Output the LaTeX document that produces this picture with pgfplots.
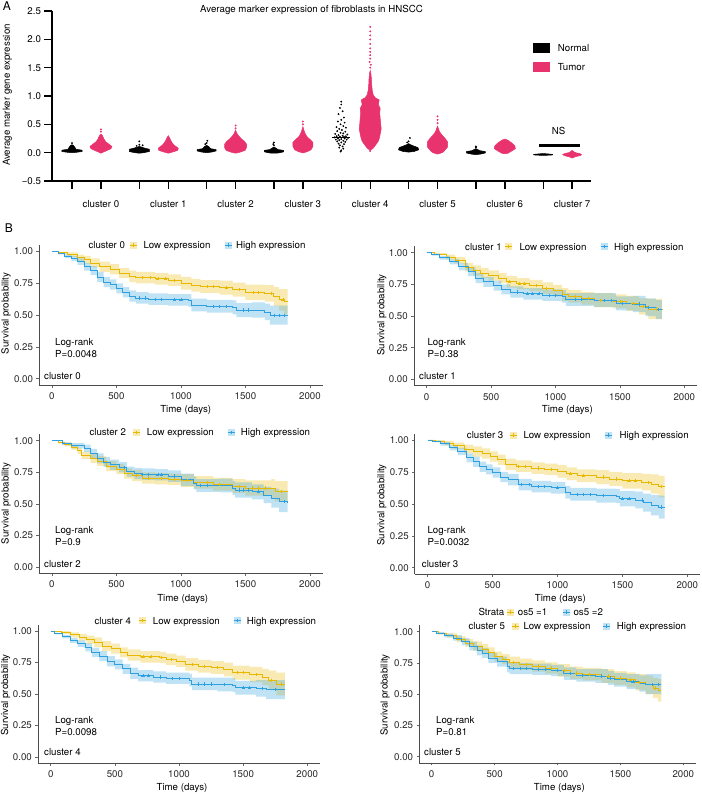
\documentclass[border=0pt]{standalone}
\usepackage{pgfplots}
\pgfplotsset{compat=1.18}
\usepackage{pgfplotstable}
\usepackage{fontspec}
\setmainfont{TeX Gyre Heros}
\definecolor{kmY}{HTML}{E7B800}
\definecolor{kmB}{HTML}{2E9FDF}
\definecolor{pinkT}{HTML}{E8336E}
\newcommand\f{\fontsize{9.7pt}{11pt}\selectfont}
\newcommand\TL[3]{\node[anchor=base west, inner sep=0pt, font=\f] at (#1pt,-#2pt-3.5pt) {#3};}
\newcommand\TC[3]{\node[anchor=base, inner sep=0pt, font=\f] at (#1pt,-#2pt-3.5pt) {#3};}
\newcommand\key[3]{\fill[#1, fill opacity=0.3] (#2pt-3.5pt,-#3pt-3.5pt) rectangle ++(7pt,7pt);
  \draw[#1, line width=0.8pt] (#2pt-3.5pt,-#3pt) -- ++(7pt,0);
  \draw[#1, line width=0.5pt] (#2pt,-#3pt-1.6pt) -- ++(0,3.2pt);}

% ---------- KM curves: t = days, y = survival; b = confidence band outline ----------
\pgfplotstableread{
t y
0 1.00
50 0.99
120 0.975
200 0.95
250 0.935
300 0.91
370 0.88
450 0.86
520 0.83
600 0.805
650 0.795
800 0.785
900 0.775
1000 0.75
1080 0.735
1150 0.725
1300 0.715
1400 0.70
1500 0.68
1650 0.67
1720 0.645
1760 0.62
1800 0.605
1826 0.605
}\LoA
\pgfplotstableread{
t y
0 1.00
50 0.985
100 0.965
150 0.945
200 0.92
250 0.88
300 0.85
350 0.80
400 0.76
450 0.74
500 0.71
550 0.68
600 0.65
650 0.635
750 0.625
900 0.62
1060 0.615
1080 0.58
1200 0.57
1400 0.56
1430 0.54
1550 0.54
1650 0.525
1690 0.50
1826 0.50
}\HiA
\pgfplotstableread{
t b
0 1
50 .998
120 .992
200 .975
250 .965
300 .945
370 .92
450 .90
520 .87
600 .85
650 .84
800 .83
900 .82
1000 .80
1080 .785
1150 .775
1300 .77
1400 .755
1500 .74
1650 .735
1720 .72
1760 .705
1800 .705
1826 .705
1826 .505
1800 .535
1760 .57
1720 .605
1650 .62
1500 .645
1400 .66
1300 .675
1150 .685
1080 .70
1000 .73
900 .74
800 .75
650 .76
600 .79
520 .82
450 .84
370 .875
300 .905
250 .925
200 .958
120 .982
50 1
0 1
}\bYA
\pgfplotstableread{
t b
0 1
50 .993
100 .98
150 .965
200 .945
250 .91
300 .885
350 .84
400 .80
450 .78
500 .75
550 .72
600 .695
650 .68
750 .67
900 .665
1060 .665
1080 .63
1200 .62
1400 .615
1430 .595
1550 .60
1650 .59
1690 .575
1826 .58
1826 .425
1690 .46
1650 .48
1550 .485
1430 .505
1400 .52
1200 .53
1080 .565
1060 .575
900 .58
750 .59
650 .605
600 .64
550 .67
500 .70
450 .72
400 .76
350 .815
300 .85
250 .895
200 .925
150 .95
100 .977
50 1
0 1
}\bBA
\pgfplotstableread{
t y
700 0.795
760 0.795
820 0.785
880 0.785
950 0.775
1200 0.725
1250 0.725
1350 0.715
1450 0.70
1560 0.68
1600 0.68
1700 0.67
1790 0.62
}\cLoA
\pgfplotstableread{
t y
680 0.635
720 0.635
800 0.625
850 0.625
950 0.62
1000 0.62
1250 0.57
1300 0.57
1350 0.57
1480 0.54
1520 0.54
1720 0.50
1760 0.50
1800 0.50
}\cHiA

\pgfplotstableread{
t y
0 1.00
60 0.99
150 0.965
220 0.94
300 0.885
360 0.86
420 0.84
480 0.82
560 0.80
620 0.77
700 0.755
800 0.74
900 0.72
980 0.70
1050 0.67
1100 0.655
1200 0.64
1300 0.625
1450 0.615
1550 0.60
1650 0.575
1720 0.555
1826 0.55
}\LoB
\pgfplotstableread{
t y
0 1.00
40 0.985
100 0.96
180 0.93
250 0.89
320 0.85
380 0.80
440 0.77
520 0.74
580 0.71
650 0.69
750 0.675
900 0.665
1050 0.655
1080 0.63
1300 0.625
1450 0.625
1470 0.60
1600 0.595
1700 0.57
1780 0.55
1826 0.55
}\HiB
\pgfplotstableread{
t b
0 1
60 .998
150 .985
220 .965
300 .92
360 .90
420 .88
480 .86
560 .84
620 .815
700 .80
800 .785
900 .765
980 .745
1050 .72
1100 .705
1200 .69
1300 .68
1450 .67
1550 .66
1650 .64
1720 .635
1826 .65
1826 .475
1720 .51
1650 .54
1550 .56
1450 .57
1300 .59
1200 .605
1100 .62
1050 .655
980 .675
900 .695
800 .71
700 .725
620 .76
560 .78
480 .80
420 .82
360 .85
300 .915
220 .945
150 .982
60 1
0 1
}\bYB
\pgfplotstableread{
t b
0 1
40 .993
100 .975
180 .952
250 .92
320 .885
380 .84
440 .81
520 .78
580 .75
650 .735
750 .72
900 .71
1050 .705
1080 .68
1300 .68
1450 .68
1470 .655
1600 .66
1700 .64
1780 .625
1826 .625
1826 .475
1780 .50
1700 .53
1600 .545
1470 .57
1450 .57
1300 .58
1080 .605
1050 .62
900 .63
750 .645
650 .67
580 .70
520 .73
440 .76
380 .815
320 .86
250 .908
180 .945
100 .977
40 1
0 1
}\bBB
\pgfplotstableread{
t y
640 0.77
720 0.755
760 0.755
850 0.74
930 0.72
1150 0.655
1250 0.64
1350 0.625
1500 0.615
1600 0.60
1680 0.575
1780 0.555
}\cLoB
\pgfplotstableread{
t y
700 0.69
780 0.675
820 0.675
870 0.675
950 0.665
1000 0.665
1150 0.63
1200 0.63
1380 0.625
1430 0.625
1520 0.60
1650 0.595
1720 0.57
1800 0.55
}\cHiB

\pgfplotstableread{
t y
0 1.00
50 0.985
100 0.97
150 0.95
200 0.92
230 0.885
300 0.86
350 0.84
420 0.80
500 0.775
560 0.74
620 0.725
700 0.705
800 0.70
900 0.695
1000 0.685
1100 0.67
1250 0.655
1400 0.64
1500 0.625
1700 0.62
1730 0.60
1826 0.60
}\LoC
\pgfplotstableread{
t y
0 1.00
80 0.975
150 0.96
250 0.94
300 0.90
350 0.86
400 0.83
450 0.81
520 0.79
580 0.755
640 0.74
700 0.735
800 0.73
900 0.72
1000 0.69
1100 0.665
1120 0.645
1300 0.645
1400 0.625
1420 0.61
1550 0.595
1640 0.57
1700 0.545
1760 0.52
1826 0.51
}\HiC
\pgfplotstableread{
t b
0 1
50 .993
100 .985
150 .97
200 .945
230 .913
300 .895
350 .88
420 .84
500 .815
560 .78
620 .77
700 .75
800 .745
900 .74
1000 .735
1100 .72
1250 .705
1400 .695
1500 .685
1700 .695
1730 .68
1826 .69
1826 .52
1730 .545
1700 .565
1500 .585
1400 .605
1250 .62
1100 .635
1000 .65
900 .655
800 .66
700 .68
620 .70
560 .735
500 .76
420 .80
350 .825
300 .857
230 .895
200 .93
150 .955
100 .977
50 1
0 1
}\bYC
\pgfplotstableread{
t b
0 1
80 .987
150 .98
250 .97
300 .935
350 .90
400 .87
450 .85
520 .83
580 .795
640 .785
700 .78
800 .775
900 .765
1000 .74
1100 .715
1120 .695
1300 .70
1400 .68
1420 .67
1550 .655
1640 .635
1700 .62
1760 .605
1826 .60
1826 .435
1760 .47
1700 .505
1640 .535
1550 .55
1420 .57
1400 .59
1300 .595
1120 .615
1100 .64
1000 .675
900 .685
800 .69
700 .695
640 .715
580 .75
520 .77
450 .79
400 .82
350 .865
300 .91
250 .94
150 .963
80 1
0 1
}\bBC
\pgfplotstableread{
t y
650 0.725
750 0.705
850 0.70
950 0.695
1050 0.685
1200 0.67
1300 0.655
1450 0.64
1550 0.625
1600 0.625
1650 0.625
1780 0.60
}\cLoC
\pgfplotstableread{
t y
560 0.79
700 0.735
750 0.735
820 0.73
850 0.73
950 0.72
1150 0.645
1200 0.645
1450 0.61
1480 0.61
1520 0.61
1600 0.595
1800 0.52
}\cHiC

\pgfplotstableread{
t y
0 1.00
60 0.99
130 0.975
200 0.955
280 0.93
350 0.91
420 0.895
480 0.87
540 0.845
600 0.81
680 0.795
800 0.78
900 0.77
1000 0.755
1070 0.735
1150 0.72
1300 0.71
1400 0.695
1500 0.68
1650 0.67
1720 0.655
1780 0.635
1826 0.635
}\LoD
\pgfplotstableread{
t y
0 1.00
40 0.99
100 0.97
170 0.94
230 0.91
300 0.86
350 0.83
400 0.79
450 0.77
500 0.745
560 0.71
620 0.69
700 0.65
800 0.635
950 0.625
1060 0.59
1100 0.575
1300 0.565
1450 0.56
1480 0.54
1600 0.53
1660 0.51
1720 0.49
1780 0.475
1826 0.475
}\HiD
\pgfplotstableread{
t b
0 1
60 .998
130 .993
200 .98
280 .963
350 .95
420 .935
480 .91
540 .885
600 .855
680 .84
800 .825
900 .815
1000 .805
1070 .785
1150 .77
1300 .765
1400 .75
1500 .74
1650 .735
1720 .73
1780 .72
1826 .725
1826 .55
1780 .58
1720 .605
1650 .62
1500 .64
1400 .655
1300 .67
1150 .685
1070 .705
1000 .725
900 .735
800 .75
680 .765
600 .805
540 .83
480 .855
420 .87
350 .897
280 .93
200 .957
130 .982
60 1
0 1
}\bYD
\pgfplotstableread{
t b
0 1
40 .996
100 .985
170 .962
230 .938
300 .895
350 .87
400 .83
450 .81
500 .785
560 .75
620 .735
700 .695
800 .68
950 .67
1060 .64
1100 .625
1300 .62
1450 .615
1480 .60
1600 .595
1660 .58
1720 .57
1780 .565
1826 .565
1826 .385
1780 .41
1720 .44
1660 .465
1600 .48
1480 .505
1450 .51
1300 .525
1100 .54
1060 .58
950 .59
800 .605
700 .645
620 .67
560 .705
500 .73
450 .75
400 .79
350 .825
300 .882
230 .918
170 .955
100 .984
40 1
0 1
}\bBD
\pgfplotstableread{
t y
700 0.795
750 0.795
850 0.78
950 0.77
1100 0.735
1200 0.72
1350 0.71
1450 0.695
1550 0.68
1600 0.68
1700 0.67
1800 0.635
}\cLoD
\pgfplotstableread{
t y
720 0.65
780 0.65
850 0.635
900 0.635
1000 0.625
1150 0.575
1200 0.575
1250 0.575
1350 0.565
1500 0.54
1550 0.54
1650 0.53
1800 0.475
}\cHiD

\pgfplotstableread{
t y
0 1.00
80 0.99
150 0.97
220 0.95
280 0.93
340 0.91
400 0.88
470 0.86
540 0.83
600 0.81
700 0.795
850 0.79
900 0.775
980 0.76
1050 0.735
1150 0.72
1250 0.71
1350 0.695
1420 0.67
1550 0.655
1650 0.635
1700 0.61
1760 0.58
1826 0.58
}\LoE
\pgfplotstableread{
t y
0 1.00
30 0.98
90 0.955
150 0.925
210 0.90
270 0.87
320 0.83
380 0.80
440 0.76
500 0.735
560 0.70
620 0.665
680 0.645
800 0.635
900 0.625
1080 0.61
1100 0.58
1300 0.575
1420 0.57
1440 0.55
1600 0.545
1680 0.535
1826 0.535
}\HiE
\pgfplotstableread{
t b
0 1
80 1.0
150 .99
220 .977
280 .963
340 .95
400 .92
470 .90
540 .87
600 .855
700 .84
850 .835
900 .82
980 .805
1050 .785
1150 .77
1250 .76
1350 .75
1420 .725
1550 .715
1650 .70
1700 .685
1760 .67
1826 .68
1826 .49
1760 .535
1700 .57
1650 .595
1550 .615
1420 .64
1350 .66
1250 .67
1150 .685
1050 .715
980 .73
900 .745
850 .75
700 .765
600 .79
540 .82
470 .84
400 .87
340 .897
280 .923
220 .95
150 .978
80 1
0 1
}\bYE
\pgfplotstableread{
t b
0 1
30 .986
90 .969
150 .945
210 .926
270 .902
320 .867
380 .84
440 .80
500 .775
560 .74
620 .71
680 .69
800 .68
900 .67
1080 .66
1100 .63
1300 .63
1420 .625
1440 .605
1600 .61
1680 .61
1826 .62
1826 .46
1680 .48
1600 .495
1440 .515
1420 .52
1300 .53
1100 .56
1080 .58
900 .59
800 .60
680 .62
620 .66
560 .695
500 .72
440 .76
380 .793
320 .838
270 .874
210 .905
150 .941
90 .974
30 1
0 1
}\bBE
\pgfplotstableread{
t y
720 0.795
780 0.795
860 0.79
940 0.775
1100 0.735
1200 0.72
1300 0.71
1450 0.67
1500 0.67
1600 0.655
1720 0.61
1800 0.58
}\cLoE
\pgfplotstableread{
t y
720 0.645
760 0.645
850 0.635
950 0.625
1000 0.625
1150 0.58
1200 0.58
1250 0.58
1350 0.575
1500 0.55
1550 0.55
1650 0.545
1750 0.535
}\cHiE

\pgfplotstableread{
t y
0 1.00
50 0.985
120 0.97
200 0.94
270 0.91
330 0.885
400 0.86
450 0.835
500 0.80
560 0.78
620 0.755
700 0.74
800 0.725
900 0.71
1000 0.69
1100 0.67
1200 0.66
1350 0.645
1450 0.63
1550 0.615
1620 0.595
1700 0.575
1760 0.55
1800 0.53
1826 0.53
}\LoF
\pgfplotstableread{
t y
0 1.00
40 0.99
100 0.97
170 0.95
240 0.92
300 0.885
360 0.85
400 0.83
450 0.79
520 0.76
600 0.72
620 0.705
800 0.70
950 0.69
1050 0.665
1150 0.65
1300 0.645
1400 0.63
1450 0.615
1550 0.60
1650 0.585
1700 0.58
1826 0.58
}\HiF
\pgfplotstableread{
t b
0 1
50 .993
120 .987
200 .965
270 .942
330 .923
400 .90
450 .875
500 .84
560 .82
620 .80
700 .785
800 .77
900 .755
1000 .74
1100 .72
1200 .71
1350 .70
1450 .685
1550 .675
1620 .66
1700 .65
1760 .63
1800 .62
1826 .62
1826 .44
1800 .47
1760 .50
1700 .53
1620 .555
1550 .575
1450 .59
1350 .61
1200 .62
1100 .64
1000 .665
900 .68
800 .695
700 .71
620 .74
560 .76
500 .795
450 .82
400 .847
330 .878
270 .915
200 .953
120 .977
50 1
0 1
}\bYF
\pgfplotstableread{
t b
0 1
40 .996
100 .985
170 .972
240 .949
300 .92
360 .89
400 .87
450 .83
520 .80
600 .765
620 .75
800 .745
950 .735
1050 .715
1150 .70
1300 .70
1400 .685
1450 .67
1550 .66
1650 .65
1700 .66
1826 .67
1826 .50
1700 .52
1650 .54
1550 .56
1450 .575
1400 .59
1300 .60
1150 .615
1050 .645
950 .655
800 .66
620 .675
600 .72
520 .75
450 .79
400 .81
360 .85
300 .891
240 .928
170 .955
100 .984
40 1
0 1
}\bBF
\pgfplotstableread{
t y
650 0.755
750 0.74
850 0.725
950 0.71
1050 0.69
1150 0.67
1250 0.66
1400 0.645
1500 0.63
1580 0.615
1650 0.595
1780 0.55
}\cLoF
\pgfplotstableread{
t y
650 0.705
700 0.705
750 0.705
850 0.70
900 0.70
1000 0.69
1100 0.665
1200 0.65
1350 0.645
1420 0.63
1600 0.60
1750 0.58
1800 0.58
}\cHiF

\pgfplotsset{
 km/.style={scale only axis, anchor=south west, xmin=-100, xmax=2100, ymin=-0.05, ymax=1.05,
  axis x line*=bottom, axis y line*=left, axis line style={-, black!70, line width=0.6pt},
  tick pos=left, tick align=outside, major tick length=2.5pt, tick style={black!60, line width=0.5pt},
  xtick={0,500,1000,1500,2000}, xticklabels={0,500,1000,1500,2000},
  ytick={0,0.25,0.5,0.75,1}, yticklabels={0.00,0.25,0.50,0.75,1.00},
  ticklabel style={font=\f, text=black!85}, xticklabel style={yshift=-1.5pt}},
}
\newcommand\kmcurves[6]{%
\addplot[fill=kmY, fill opacity=0.3, draw=none, const plot] table[x=t,y=b]{#1};
\addplot[fill=kmB, fill opacity=0.3, draw=none, const plot] table[x=t,y=b]{#2};
\addplot[kmY, line width=0.8pt, const plot] table[x=t,y=y]{#3};
\addplot[kmB, line width=0.8pt, const plot] table[x=t,y=y]{#4};
\addplot[kmY, only marks, mark=+, mark size=1.6pt, line width=0.4pt] table[x=t,y=y]{#5};
\addplot[kmB, only marks, mark=+, mark size=1.6pt, line width=0.4pt] table[x=t,y=y]{#6};}

\begin{document}
\begin{tikzpicture}
\path[use as bounding box] (0,0) rectangle (701pt,-794pt);

% ================= Panel A =================
\begin{axis}[scale only axis, anchor=south west, at={(52pt,-181pt)}, width=539pt, height=170pt,
  xmin=-0.297, xmax=7.71, ymin=-0.5, ymax=2.5,
  axis x line*=bottom, axis y line*=left, axis line style={-, black, line width=1.4pt},
  tick pos=left, tick align=outside, major tick length=8pt, tick style={black, line width=1.4pt},
  xtick={0,0.43,1,1.43,2,2.43,3,3.43,4,4.43,5,5.43,6,6.43,7,7.43},
  xticklabels={,cluster 0,,cluster 1,,cluster 2,,cluster 3,,cluster 4,,cluster 5,,cluster 6,,cluster 7},
  ytick={-0.5,0,0.5,1,1.5,2,2.5}, yticklabels={−0.5,0.0,0.5,1.0,1.5,2.0,2.5},
  ticklabel style={font=\f}, xticklabel style={yshift=-8pt}, yticklabel style={xshift=0.5pt},
  clip=false]
\addplot[fill=black, draw=black, line width=0.5pt] coordinates {(0,0.0) (0.06,0.005) (0.149,0.02) (0.149,0.045) (0.06,0.06) (0.04,0.10) (0.02,0.13) (0,0.14) (-0.02,0.13) (-0.04,0.10) (-0.06,0.06) (-0.149,0.045) (-0.149,0.02) (-0.06,0.005)} -- cycle;
\addplot[fill=black, draw=black, line width=0.5pt] coordinates {(1,-0.01) (1.07,0.0) (1.149,0.02) (1.149,0.06) (1.08,0.08) (1.03,0.10) (1,0.11) (0.97,0.10) (0.92,0.08) (0.851,0.06) (0.851,0.02) (0.93,0.0)} -- cycle;
\addplot[fill=black, draw=black, line width=0.5pt] coordinates {(2,0.0) (2.07,0.01) (2.141,0.03) (2.141,0.055) (2.06,0.07) (2.03,0.11) (2,0.13) (1.97,0.11) (1.94,0.07) (1.859,0.055) (1.859,0.03) (1.93,0.01)} -- cycle;
\addplot[fill=black, draw=black, line width=0.5pt] coordinates {(3,-0.01) (3.07,-0.005) (3.144,0.015) (3.144,0.04) (3.06,0.055) (3.03,0.08) (3,0.10) (2.97,0.08) (2.94,0.055) (2.856,0.04) (2.856,0.015) (2.93,-0.005)} -- cycle;
\addplot[fill=black, draw=black, line width=0.5pt] coordinates {(5,0.01) (5.08,0.02) (5.149,0.05) (5.14,0.09) (5.07,0.12) (5.03,0.14) (5,0.16) (4.97,0.14) (4.93,0.12) (4.86,0.09) (4.851,0.05) (4.92,0.02)} -- cycle;
\addplot[fill=black, draw=black, line width=0.5pt] coordinates {(6,-0.035) (6.07,-0.025) (6.141,-0.005) (6.141,0.02) (6.06,0.035) (6.02,0.06) (6,0.07) (5.98,0.06) (5.94,0.035) (5.859,0.02) (5.859,-0.005) (5.93,-0.025)} -- cycle;
\addplot[fill=black, draw=black, line width=0.5pt] coordinates {(7,-0.05) (7.141,-0.04) (7.141,-0.03) (7.05,-0.02) (7,-0.015) (6.95,-0.02) (6.859,-0.03) (6.859,-0.04)} -- cycle;
\addplot[black, line width=1.5pt] coordinates {(3.866,0.27) (4.134,0.27)};
\addplot[only marks, mark=*, mark size=0.7pt, black] coordinates {
(0,0.17) (1,0.14) (1,0.2) (0.96,0.12) (1.05,0.13) (2,0.17) (2.01,0.21) (1.98,0.15) (3,0.13) (3,0.18) (2.99,0.15)
(5,0.2) (5.02,0.26) (4.98,0.18) (6,0.09) (6,0.11)
(4.00,0.90) (4.00,0.85) (3.98,0.79) (4.02,0.73) (3.96,0.68) (4.04,0.62) (4.00,0.58) (3.95,0.55) (4.05,0.53) (3.99,0.50)
(4.03,0.47) (3.93,0.45) (4.07,0.44) (3.97,0.42) (4.01,0.40) (3.94,0.38) (4.06,0.37) (3.99,0.35) (4.03,0.34) (3.91,0.33)
(4.09,0.32) (3.96,0.31) (4.02,0.30) (3.93,0.29) (4.07,0.29) (3.98,0.28) (4.04,0.28) (3.90,0.27) (4.10,0.26) (3.95,0.25)
(4.05,0.25) (4.00,0.24) (3.92,0.23) (4.08,0.23) (3.97,0.22) (4.03,0.21) (3.94,0.20) (4.06,0.19) (4.00,0.18) (3.96,0.16)
(4.04,0.15) (3.98,0.13) (4.02,0.11) (3.97,0.09) (4.03,0.07) (4.00,0.04) (3.99,0.02)};
\addplot[fill=pinkT, draw=pinkT, line width=0.5pt] coordinates {(0.43,-0.01) (0.445,0.0) (0.504,0.03) (0.579,0.07) (0.593,0.11) (0.549,0.15) (0.504,0.19) (0.475,0.24) (0.452,0.30) (0.43,0.33) (0.408,0.30) (0.385,0.24) (0.356,0.19) (0.311,0.15) (0.267,0.11) (0.281,0.07) (0.356,0.03) (0.415,0.0)} -- cycle;
\addplot[fill=pinkT, draw=pinkT, line width=0.5pt] coordinates {(1.43,-0.01) (1.49,0.01) (1.57,0.04) (1.579,0.08) (1.52,0.13) (1.49,0.17) (1.47,0.21) (1.45,0.26) (1.43,0.30) (1.41,0.26) (1.39,0.21) (1.37,0.17) (1.34,0.13) (1.281,0.08) (1.29,0.04) (1.37,0.01)} -- cycle;
\addplot[fill=pinkT, draw=pinkT, line width=0.5pt] coordinates {(2.43,-0.01) (2.50,0.01) (2.57,0.04) (2.593,0.09) (2.593,0.15) (2.56,0.20) (2.52,0.24) (2.48,0.29) (2.455,0.33) (2.44,0.37) (2.43,0.40) (2.42,0.37) (2.405,0.33) (2.38,0.29) (2.34,0.24) (2.30,0.20) (2.267,0.15) (2.267,0.09) (2.29,0.04) (2.36,0.01)} -- cycle;
\addplot[fill=pinkT, draw=pinkT, line width=0.5pt] coordinates {(3.43,-0.005) (3.50,0.02) (3.55,0.05) (3.579,0.11) (3.579,0.18) (3.54,0.23) (3.50,0.27) (3.475,0.31) (3.455,0.36) (3.44,0.42) (3.43,0.46) (3.42,0.42) (3.405,0.36) (3.385,0.31) (3.36,0.27) (3.32,0.23) (3.281,0.18) (3.281,0.11) (3.31,0.05) (3.36,0.02)} -- cycle;
\addplot[fill=pinkT, draw=pinkT, line width=0.5pt] coordinates {(4.43,0.04) (4.475,0.08) (4.519,0.15) (4.549,0.2) (4.564,0.25) (4.579,0.33) (4.593,0.42) (4.586,0.5) (4.579,0.6) (4.571,0.7) (4.579,0.78) (4.549,0.85) (4.564,0.93) (4.504,0.97) (4.475,1.02) (4.46,1.1) (4.452,1.2) (4.448,1.3) (4.44,1.4) (4.43,1.45) (4.42,1.4) (4.412,1.3) (4.408,1.2) (4.40,1.1) (4.385,1.02) (4.356,0.97) (4.296,0.93) (4.311,0.85) (4.281,0.78) (4.289,0.7) (4.281,0.6) (4.274,0.5) (4.267,0.42) (4.281,0.33) (4.296,0.25) (4.311,0.2) (4.341,0.15) (4.385,0.08)} -- cycle;
\addplot[fill=pinkT, draw=pinkT, line width=0.5pt] coordinates {(5.43,-0.025) (5.50,0.0) (5.53,0.03) (5.579,0.10) (5.579,0.19) (5.55,0.24) (5.52,0.28) (5.49,0.32) (5.46,0.37) (5.445,0.42) (5.43,0.47) (5.415,0.42) (5.40,0.37) (5.37,0.32) (5.34,0.28) (5.31,0.24) (5.281,0.19) (5.281,0.10) (5.33,0.03) (5.36,0.0)} -- cycle;
\addplot[fill=pinkT, draw=pinkT, line width=0.5pt] coordinates {(6.43,-0.02) (6.475,-0.01) (6.534,0.03) (6.586,0.07) (6.579,0.12) (6.534,0.17) (6.475,0.22) (6.43,0.24) (6.385,0.22) (6.326,0.17) (6.281,0.12) (6.274,0.07) (6.326,0.03) (6.385,-0.01)} -- cycle;
\addplot[fill=pinkT, draw=pinkT, line width=0.5pt] coordinates {(7.43,-0.095) (7.47,-0.075) (7.55,-0.05) (7.571,-0.035) (7.54,-0.015) (7.48,0.0) (7.45,0.02) (7.43,0.04) (7.41,0.02) (7.38,0.0) (7.32,-0.015) (7.289,-0.035) (7.31,-0.05) (7.39,-0.075)} -- cycle;
\addplot[only marks, mark=*, mark size=0.75pt, pinkT] coordinates {
(0.43,0.37) (0.43,0.41) (2.43,0.43) (2.43,0.48) (3.43,0.50) (3.43,0.55) (5.43,0.52) (5.43,0.58) (5.43,0.64)
(4.43,0.03) (4.43,1.50) (4.44,1.55) (4.42,1.60) (4.43,1.66) (4.43,1.72) (4.43,1.78) (4.43,1.84) (4.43,1.92)
(4.43,2.00) (4.43,2.07) (4.43,2.14) (4.43,2.22)};
\addplot[black, line width=2.8pt] coordinates {(6.94,0.123) (7.55,0.123)};
\node[font=\f] at (axis cs:7.23,0.38) {NS};
\end{axis}
\node[font=\fontsize{12pt}{14pt}\selectfont, inner sep=0] at (7pt,-6pt) {A};
\TC{311.5}{9.5}{Average marker expression of fibroblasts in HNSCC}
\node[rotate=90, font=\f, inner sep=0] at (7.5pt,-95pt) {Average marker gene expression};
\fill[black] (533.3pt,-42.7pt) rectangle (550pt,-52.7pt);
\fill[pinkT] (533.3pt,-61.7pt) rectangle (550pt,-71.7pt);
\TL{557.7}{47.7}{Normal}
\TL{557.7}{66.7}{Tumor}

% ================= Panel B =================
\node[font=\fontsize{12pt}{14pt}\selectfont, inner sep=0] at (9pt,-228pt) {B};
\begin{axis}[km, at={(39pt,-385.1pt)}, width=283.9pt, height=140pt]
\kmcurves{\bYA}{\bBA}{\LoA}{\HiA}{\cLoA}{\cHiA}
\end{axis}
\begin{axis}[km, at={(413.8pt,-385.6pt)}, width=283.4pt, height=139.2pt]
\kmcurves{\bYB}{\bBB}{\LoB}{\HiB}{\cLoB}{\cHiB}
\end{axis}
\begin{axis}[km, at={(39pt,-573.3pt)}, width=283.9pt, height=138.9pt]
\kmcurves{\bYC}{\bBC}{\LoC}{\HiC}{\cLoC}{\cHiC}
\end{axis}
\begin{axis}[km, at={(414.7pt,-574.1pt)}, width=285.6pt, height=140.5pt]
\kmcurves{\bYD}{\bBD}{\LoD}{\HiD}{\cLoD}{\cHiD}
\end{axis}
\begin{axis}[km, at={(37.9pt,-763.3pt)}, width=282.2pt, height=138.6pt]
\kmcurves{\bYE}{\bBE}{\LoE}{\HiE}{\cLoE}{\cHiE}
\end{axis}
\begin{axis}[km, at={(419.1pt,-762.95pt)}, width=276.8pt, height=137.5pt]
\kmcurves{\bYF}{\bBF}{\LoF}{\HiF}{\cLoF}{\cHiF}
\end{axis}

\TL{88.3}{245}{cluster 0}\key{kmY}{133}{245}\TL{143.3}{245}{Low expression}\key{kmB}{228}{245}\TL{236}{245}{High expression}
\TL{465}{246.5}{cluster 1}\key{kmY}{508.3}{246.5}\TL{519.3}{246.5}{Low expression}\key{kmB}{604}{246.5}\TL{614}{246.5}{High expression}
\TL{89.3}{432.3}{cluster 2}\key{kmY}{136.7}{432.3}\TL{146.7}{432.3}{Low expression}\key{kmB}{231.7}{432.3}\TL{240.7}{432.3}{High expression}
\TL{466.7}{435}{cluster 3}\key{kmY}{513.3}{435}\TL{523.3}{435}{Low expression}\key{kmB}{608.3}{435}\TL{619.3}{435}{High expression}
\TL{94.3}{620.7}{cluster 4}\key{kmY}{142.7}{620.7}\TL{152.7}{620.7}{Low expression}\key{kmB}{237.3}{620.7}\TL{246.7}{620.7}{High expression}
\TL{478.3}{612}{Strata}\key{kmY}{510.7}{612}\TL{517.7}{612}{os5 =1}\key{kmB}{566.7}{612}\TL{573.3}{612}{os5 =2}
\TL{468.3}{626}{cluster 5}\key{kmY}{515}{626}\TL{523.3}{626}{Low expression}\key{kmB}{606.7}{626}\TL{616.7}{626}{High expression}

\TL{55}{341.7}{Log-rank}\TL{55}{354}{P=0.0048}\TL{44}{376}{cluster 0}
\TL{427.3}{341.7}{Log-rank}\TL{427.3}{354}{P=0.38}\TL{419}{376}{cluster 1}
\TL{55}{530}{Log-rank}\TL{55}{542.3}{P=0.9}\TL{44}{564.3}{cluster 2}
\TL{427.3}{530}{Log-rank}\TL{427.3}{542.3}{P=0.0032}\TL{421.7}{564}{cluster 3}
\TL{55}{720}{Log-rank}\TL{55}{732.3}{P=0.0098}\TL{44}{751.7}{cluster 4}
\TL{436}{720}{Log-rank}\TL{436}{731.7}{P=0.81}\TL{424}{751.7}{cluster 5}

\TC{185.7}{409}{Time (days)}
\TC{567.3}{409.3}{Time (days)}
\TC{182.7}{597.7}{Time (days)}
\TC{560.3}{598.3}{Time (days)}
\TC{182}{787.3}{Time (days)}
\TC{559.3}{787.3}{Time (days)}
\node[rotate=90, font=\f, inner sep=0] at (6pt,-313.3pt) {Survival probability};
\node[rotate=90, font=\f, inner sep=0] at (381.7pt,-315pt) {Survival probability};
\node[rotate=90, font=\f, inner sep=0] at (6pt,-503.3pt) {Survival probability};
\node[rotate=90, font=\f, inner sep=0] at (381.7pt,-505pt) {Survival probability};
\node[rotate=90, font=\f, inner sep=0] at (5.5pt,-695pt) {Survival probability};
\node[rotate=90, font=\f, inner sep=0] at (385pt,-695pt) {Survival probability};
\end{tikzpicture}
\end{document}
